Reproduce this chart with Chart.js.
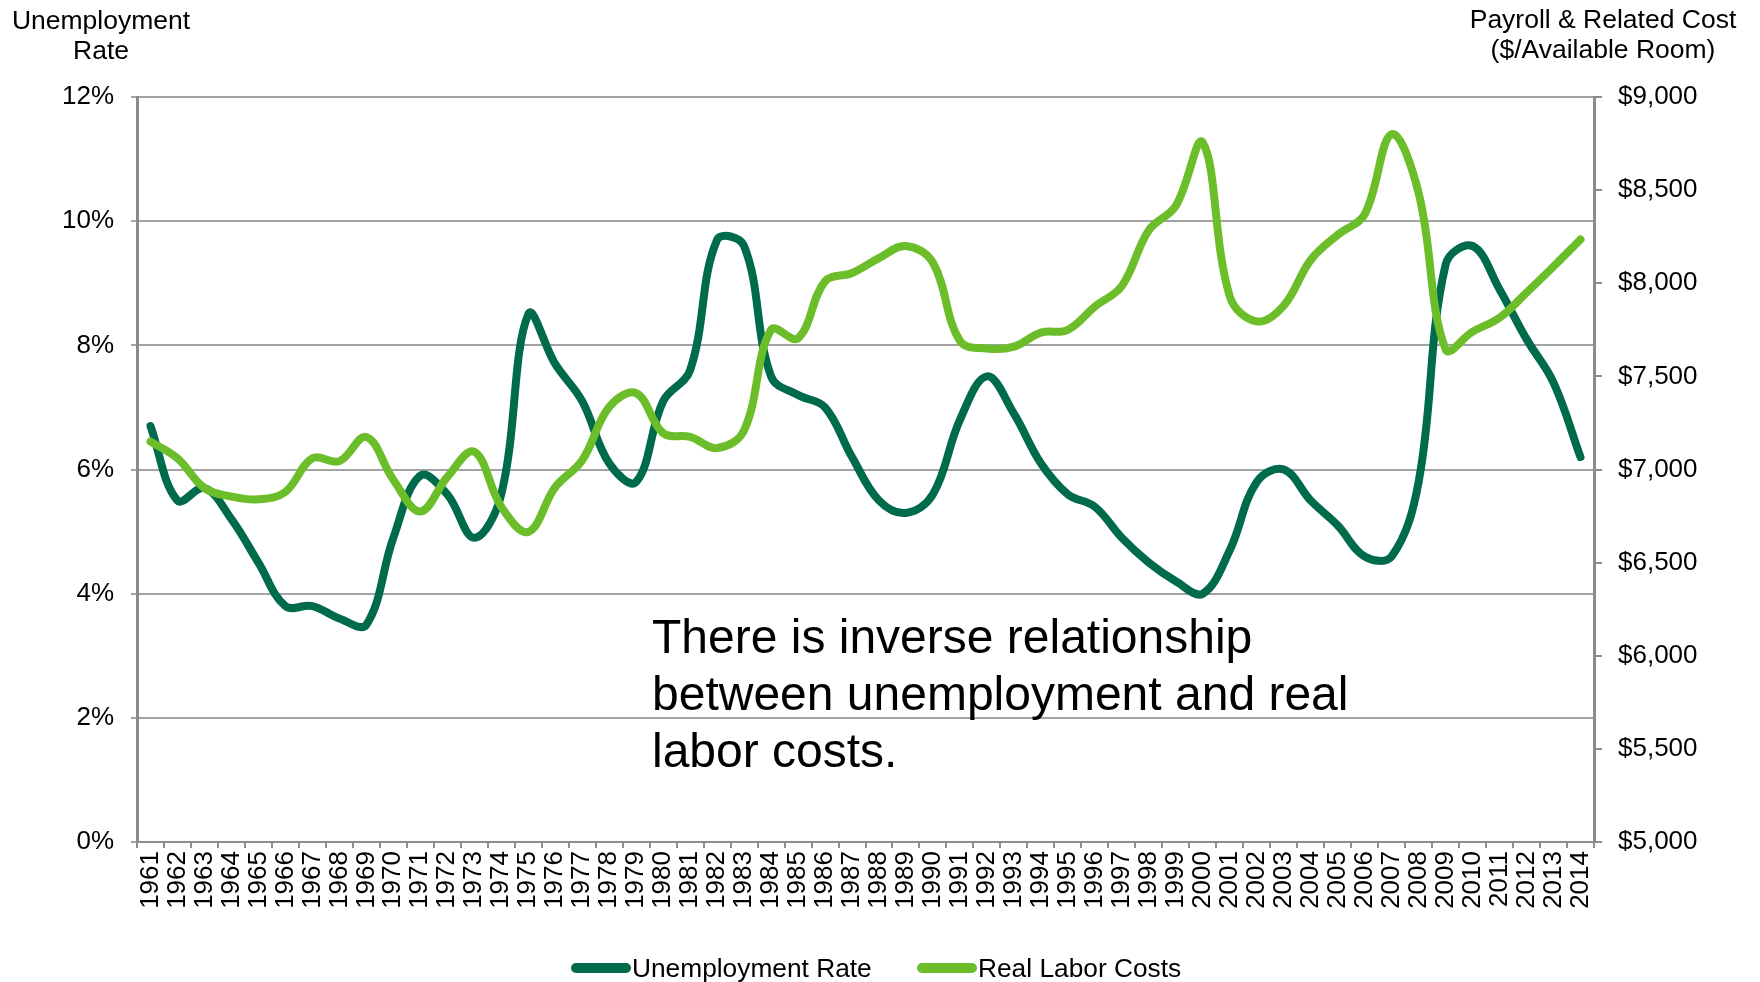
<!DOCTYPE html>
<html>
<head>
<meta charset="utf-8">
<script src="https://cdn.jsdelivr.net/npm/chart.js@4.4.1/dist/chart.umd.min.js"></script>
<style>
  html, body { margin: 0; padding: 0; background: #ffffff; }
  #wrap { width: 1760px; height: 982px; }
</style>
</head>
<body>
<div id="wrap"><canvas id="c" width="1760" height="982"></canvas></div>
<script>
// ---- data ----
const years = ['1961','1962','1963','1964','1965','1966','1967','1968','1969','1970',
  '1971','1972','1973','1974','1975','1976','1977','1978','1979','1980',
  '1981','1982','1983','1984','1985','1986','1987','1988','1989','1990',
  '1991','1992','1993','1994','1995','1996','1997','1998','1999','2000',
  '2001','2002','2003','2004','2005','2006','2007','2008','2009','2010',
  '2011','2012','2013','2014'];

const unemploymentRate = [6.7, 5.5, 5.7, 5.2, 4.5, 3.8, 3.8, 3.6, 3.5, 4.9,
  5.9, 5.6, 4.9, 5.6, 8.5, 7.7, 7.1, 6.1, 5.8, 7.1,
  7.6, 9.7, 9.6, 7.5, 7.2, 7.0, 6.2, 5.5, 5.3, 5.6,
  6.8, 7.5, 6.9, 6.1, 5.6, 5.4, 4.9, 4.5, 4.2, 4.0,
  4.7, 5.8, 6.0, 5.5, 5.1, 4.6, 4.6, 5.8, 9.3, 9.6,
  8.9, 8.1, 7.4, 6.2];

const realLaborCosts = [7150, 7060, 6900, 6855, 6840, 6880, 7060, 7045, 7175, 6945,
  6775, 6960, 7095, 6800, 6665, 6905, 7050, 7335, 7410, 7195,
  7175, 7115, 7210, 7750, 7705, 8010, 8055, 8135, 8200, 8110,
  7690, 7650, 7660, 7735, 7750, 7875, 7985, 8285, 8415, 8755,
  7930, 7795, 7880, 8125, 8260, 8370, 8800, 8485, 7645, 7740,
  7815, 7950, 8090, 8235];

const seriesNames = ['Unemployment Rate', 'Real Labor Costs'];
const leftTitle = ['Unemployment', 'Rate'];
const rightTitle = ['Payroll & Related Cost', '($/Available Room)'];
const noteLines = ['There is inverse relationship', 'between unemployment and real', 'labor costs.'];

const DARK = '#006B4C';
const LIGHT = '#6BBE2A';
const AXIS = '#8c8c8c';
const GRID = '#a3a3a3';
const FONT = "'Liberation Sans', Arial, sans-serif";

Chart.defaults.font.family = FONT;
Chart.defaults.color = '#000000';

const textPlugin = {
  id: 'texts',
  afterDraw(chart) {
    const ctx = chart.ctx;
    ctx.save();
    ctx.fillStyle = '#000000';
    // axis titles
    ctx.font = "26.5px " + FONT;
    ctx.textAlign = 'center';
    ctx.textBaseline = 'alphabetic';
    ctx.fillText(leftTitle[0], 101, 29);
    ctx.fillText(leftTitle[1], 101, 59);
    ctx.fillText(rightTitle[0], 1603, 28);
    ctx.fillText(rightTitle[1], 1603, 58);
    // annotation
    ctx.font = "48px " + FONT;
    ctx.textAlign = 'left';
    ctx.fillText(noteLines[0], 652, 653);
    ctx.fillText(noteLines[1], 652, 710);
    ctx.fillText(noteLines[2], 652, 767);
    // legend
    const items = [
      {x: 571, color: chart.data.datasets[0].borderColor, label: chart.data.datasets[0].label},
      {x: 917, color: chart.data.datasets[1].borderColor, label: chart.data.datasets[1].label}
    ];
    ctx.font = "26.3px " + FONT;
    items.forEach(it => {
      ctx.strokeStyle = it.color;
      ctx.lineWidth = 10;
      ctx.lineCap = 'round';
      ctx.beginPath();
      ctx.moveTo(it.x + 5, 968);
      ctx.lineTo(it.x + 55, 968);
      ctx.stroke();
      ctx.fillText(it.label, it.x + 61, 977);
    });
    ctx.restore();
  }
};

new Chart(document.getElementById('c'), {
  type: 'line',
  data: {
    labels: years,
    datasets: [
      {
        label: seriesNames[0],
        data: unemploymentRate,
        yAxisID: 'y',
        borderColor: DARK,
        backgroundColor: DARK,
        borderWidth: 8,
        order: 1
      },
      {
        label: seriesNames[1],
        data: realLaborCosts,
        yAxisID: 'y1',
        borderColor: LIGHT,
        backgroundColor: LIGHT,
        borderWidth: 8,
        order: 0
      }
    ]
  },
  options: {
    responsive: false,
    animation: false,
    devicePixelRatio: 1,
    layout: { padding: { top: 97, bottom: 40, left: 0, right: 0 } },
    elements: {
      point: { radius: 0, hoverRadius: 0 },
      line: { tension: 0.38, borderCapStyle: 'round', borderJoinStyle: 'round', fill: false }
    },
    plugins: { legend: { display: false }, tooltip: { enabled: false } },
    scales: {
      x: {
        type: 'category',
        offset: true,
        grid: { offset: true, drawOnChartArea: false, drawTicks: true, tickLength: 6, color: AXIS, lineWidth: 2 },
        border: { display: true, color: AXIS, width: 2 },
        ticks: { autoSkip: false, minRotation: 90, maxRotation: 90, padding: 3, font: { size: 26 }, color: '#000' },
        afterFit: s => { s.height = 100; }
      },
      y: {
        position: 'left',
        min: 0, max: 12,
        ticks: { stepSize: 2, padding: 17, font: { size: 26 }, color: '#000', callback: v => v + '%' },
        grid: { color: GRID, lineWidth: 2, tickLength: 6, drawTicks: true },
        border: { display: true, color: AXIS, width: 3 },
        afterFit: s => { s.width = 137; }
      },
      y1: {
        position: 'right',
        min: 5000, max: 9000,
        ticks: { stepSize: 500, padding: 16, font: { size: 26 }, color: '#000',
          callback: v => '$' + Number(v).toLocaleString('en-US') },
        grid: { drawOnChartArea: false, drawTicks: true, tickLength: 8, color: AXIS, lineWidth: 2 },
        border: { display: true, color: AXIS, width: 3 },
        afterFit: s => { s.width = 166; }
      }
    }
  },
  plugins: [textPlugin]
});
</script>
</body>
</html>
